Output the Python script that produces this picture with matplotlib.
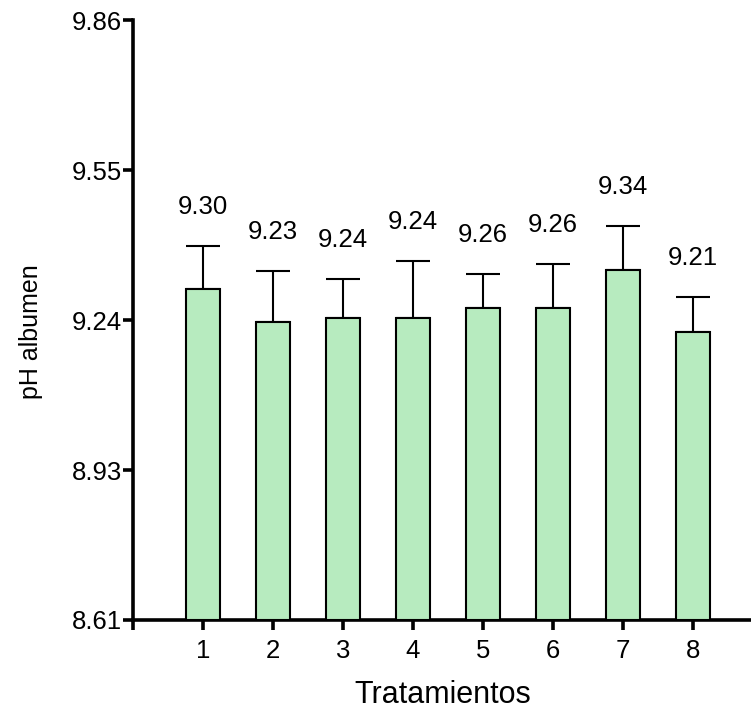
import matplotlib
matplotlib.use("Agg")
import matplotlib.pyplot as plt
import numpy as np

plt.rcParams['font.family'] = ['Liberation Sans', 'DejaVu Sans']

treatments = [1, 2, 3, 4, 5, 6, 7, 8]
means = [9.30, 9.23, 9.24, 9.24, 9.26, 9.26, 9.34, 9.21]
sd = [0.089, 0.107, 0.080, 0.118, 0.071, 0.092, 0.091, 0.073]
value_labels = ["9.30", "9.23", "9.24", "9.24", "9.26", "9.26", "9.34", "9.21"]
y_tick_labels = ["8.61", "8.93", "9.24", "9.55", "9.86"]
y_min, y_max = 8.61, 9.86
x_max = 8.85

fig = plt.figure(figsize=(7.51, 7.15), dpi=100)
ax = fig.add_axes([0.177, 0.1329, 0.825, 0.839])

x = np.array(treatments)
ax.bar(x, np.array(means) - y_min, bottom=y_min, width=0.48,
       color='#b7ebbf', edgecolor='black', linewidth=1.5, zorder=3)
ax.errorbar(x, means, yerr=[np.zeros(len(sd)), sd], fmt='none',
            ecolor='black', elinewidth=1.5, capsize=12.5, capthick=1.5, zorder=2)

for xi, m, s, lab in zip(x, means, sd, value_labels):
    ax.annotate(lab, (xi, m + s), xytext=(0, 28), textcoords='offset points',
                ha='center', va='center', fontsize=18.5)

ax.set_xlim(0, x_max)
ax.set_ylim(y_min, y_max)
ax.set_yticks(np.linspace(y_min, y_max, 5))
ax.set_yticklabels(y_tick_labels)
ax.set_xticks(treatments)
ax.set_xticks([0, x_max], minor=True)

for side in ['top', 'right']:
    ax.spines[side].set_visible(False)
for side in ['left', 'bottom']:
    ax.spines[side].set_linewidth(2.6)
    ax.spines[side].set_capstyle('projecting')

ax.tick_params(axis='both', which='both', direction='out', length=7, width=2.6,
               labelsize=18.5, colors='black')
ax.tick_params(axis='y', pad=1)
ax.tick_params(axis='x', pad=7)

ax.set_xlabel('Tratamientos', fontsize=22, labelpad=12)
ax.set_ylabel('pH albumen', fontsize=18)
ax.yaxis.set_label_coords(-0.145, 0.48)

fig.savefig('out.png', dpi=100)
